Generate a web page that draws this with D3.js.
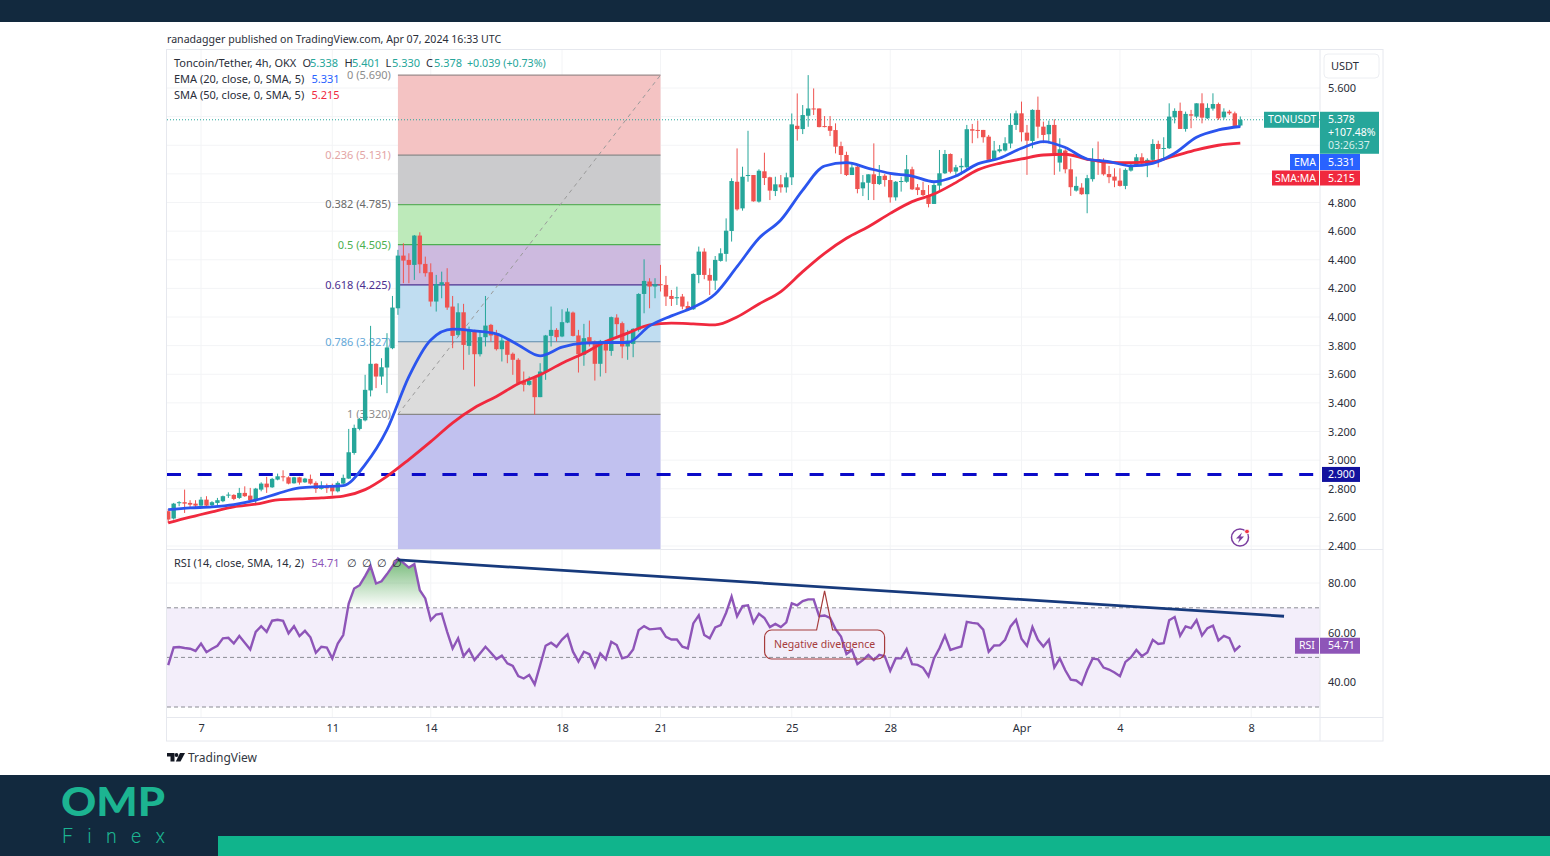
<!DOCTYPE html>
<html>
<head>
<meta charset="utf-8">
<script src="https://cdn.jsdelivr.net/npm/d3@7"></script>
<style>
  html, body { margin: 0; padding: 0; background: #fff; }
  svg { display: block; }
  text { font-family: "Noto Sans", sans-serif; }
</style>
</head>
<body>
<svg width="1550" height="856"></svg>
<script>
// bars are 4h, first one is Mar 6 00:00 UTC
const opens = [2.643,2.592,2.699,2.706,2.701,2.696,2.682,2.724,2.685,2.701,2.713,2.755,2.757,2.736,2.771,2.752,2.720,2.794,2.836,2.810,2.864,2.887,2.880,2.838,2.880,2.845,2.869,2.841,2.799,2.817,2.822,2.782,2.836,2.871,3.050,3.218,3.278,3.487,3.673,3.584,3.647,3.782,4.061,4.429,4.399,4.364,4.569,4.371,4.313,4.108,4.224,4.243,4.073,3.875,4.033,3.798,3.903,3.740,3.859,3.945,3.880,3.775,3.833,3.743,3.701,3.554,3.526,3.573,3.440,3.615,3.868,3.910,3.864,3.961,4.031,3.871,3.736,3.859,3.829,3.673,3.833,3.763,3.996,3.957,3.794,3.812,3.910,4.161,4.248,4.213,4.229,4.224,4.147,4.133,4.143,4.077,4.054,4.294,4.457,4.294,4.254,4.392,4.441,4.601,4.945,4.759,4.985,4.992,4.806,5.018,4.976,4.880,4.927,4.906,4.976,5.336,5.313,5.406,5.457,5.457,5.334,5.334,5.306,5.194,5.132,4.992,5.050,4.899,4.938,4.997,4.929,4.987,4.957,4.836,4.945,4.945,5.032,4.906,4.887,4.852,4.790,4.918,5.004,5.139,5.016,5.046,5.046,5.312,5.307,5.307,5.260,5.098,5.158,5.163,5.212,5.342,5.423,5.288,5.230,5.447,5.330,5.277,5.342,5.079,5.163,5.032,4.883,4.904,4.858,4.963,5.104,5.086,4.999,4.981,4.953,4.916,5.023,5.056,5.116,5.070,5.098,5.209,5.177,5.179,5.395,5.440,5.314,5.416,5.400,5.493,5.388,5.456,5.488,5.395,5.435,5.423,5.338];
const highs = [2.659,2.701,2.713,2.794,2.720,2.720,2.743,2.748,2.713,2.736,2.752,2.775,2.762,2.806,2.817,2.806,2.806,2.845,2.883,2.876,2.906,2.929,2.887,2.883,2.883,2.876,2.899,2.852,2.852,2.836,2.836,2.852,2.899,3.218,3.248,3.294,3.596,3.938,3.677,3.712,3.887,4.147,4.469,4.515,4.445,4.573,4.592,4.422,4.375,4.294,4.317,4.341,4.147,4.096,4.092,3.933,3.910,3.898,4.147,3.952,3.910,3.875,3.852,3.752,3.712,3.619,3.584,3.573,3.677,3.875,4.073,3.922,4.054,4.061,4.038,3.910,3.952,3.975,3.836,3.840,3.840,4.003,4.019,3.968,3.910,3.922,4.166,4.403,4.271,4.271,4.364,4.287,4.189,4.212,4.161,4.108,4.305,4.492,4.480,4.340,4.426,4.480,4.689,4.969,5.178,5.050,5.301,4.992,5.032,5.148,4.980,4.980,4.992,5.008,5.422,5.562,5.481,5.690,5.597,5.457,5.404,5.404,5.353,5.225,5.155,5.078,5.069,4.992,4.997,5.213,5.062,4.999,5.004,4.950,4.980,5.132,5.050,4.929,4.945,4.922,4.934,5.167,5.167,5.143,5.063,5.109,5.342,5.349,5.372,5.307,5.272,5.230,5.202,5.256,5.423,5.442,5.505,5.342,5.451,5.540,5.365,5.372,5.381,5.249,5.172,5.109,4.981,4.935,4.993,5.179,5.226,5.109,5.056,5.039,5.039,5.039,5.074,5.139,5.144,5.109,5.242,5.232,5.256,5.493,5.458,5.498,5.435,5.447,5.493,5.563,5.493,5.563,5.498,5.458,5.447,5.435,5.401];
const lows = [2.561,2.585,2.678,2.631,2.666,2.666,2.673,2.673,2.678,2.682,2.706,2.736,2.720,2.729,2.743,2.706,2.696,2.782,2.771,2.806,2.859,2.852,2.831,2.836,2.829,2.841,2.829,2.771,2.794,2.771,2.752,2.775,2.829,2.869,3.038,3.208,3.271,3.445,3.503,3.526,3.468,3.775,4.015,4.236,4.236,4.259,4.306,4.282,4.073,4.038,4.131,4.050,3.782,3.864,3.631,3.736,3.515,3.724,3.794,3.829,3.766,3.689,3.677,3.596,3.538,3.480,3.521,3.317,3.440,3.561,3.794,3.829,3.859,3.957,3.864,3.612,3.659,3.794,3.556,3.584,3.608,3.729,3.868,3.712,3.701,3.719,3.898,4.026,4.061,4.131,4.178,4.077,4.077,4.084,4.054,4.050,4.050,4.236,4.264,4.154,4.189,4.387,4.387,4.527,4.743,4.743,4.945,4.806,4.799,4.922,4.817,4.845,4.869,4.869,4.922,5.232,5.278,5.329,5.411,5.325,5.325,5.264,5.143,4.999,4.985,4.992,4.864,4.845,4.817,4.817,4.922,4.911,4.799,4.813,4.876,4.938,4.887,4.852,4.845,4.766,4.790,4.883,4.999,5.004,4.981,4.993,5.028,5.214,5.249,5.218,5.098,5.091,5.149,5.156,5.179,5.307,5.226,4.993,5.179,5.249,5.214,5.214,4.993,5.016,5.004,4.846,4.876,4.853,4.725,4.946,4.993,4.988,4.935,4.907,4.911,4.893,5.016,5.056,5.063,4.977,5.086,5.046,5.098,5.174,5.353,5.314,5.295,5.319,5.388,5.353,5.384,5.442,5.377,5.381,5.412,5.330,5.330];
const closes = [2.585,2.696,2.706,2.696,2.689,2.682,2.724,2.682,2.706,2.720,2.748,2.759,2.729,2.771,2.748,2.720,2.801,2.836,2.810,2.869,2.887,2.883,2.836,2.880,2.843,2.871,2.836,2.799,2.822,2.803,2.782,2.841,2.876,3.055,3.225,3.287,3.491,3.673,3.584,3.649,3.787,4.066,4.429,4.394,4.364,4.569,4.368,4.306,4.108,4.229,4.243,4.066,3.868,4.033,3.805,3.910,3.740,3.859,3.940,3.871,3.775,3.836,3.736,3.701,3.538,3.526,3.554,3.440,3.619,3.871,3.910,3.859,3.964,4.038,3.868,3.740,3.852,3.817,3.673,3.833,3.766,3.999,3.950,3.794,3.836,3.917,4.161,4.252,4.213,4.229,4.224,4.143,4.126,4.138,4.073,4.054,4.301,4.457,4.294,4.254,4.399,4.445,4.603,4.950,4.752,4.980,4.992,4.808,5.022,4.971,4.883,4.927,4.906,4.976,5.346,5.313,5.411,5.457,5.453,5.327,5.327,5.301,5.190,5.132,4.992,5.045,4.894,4.941,4.997,4.929,4.985,4.957,4.836,4.945,4.950,5.032,4.892,4.887,4.852,4.790,4.922,5.004,5.139,5.015,5.046,5.056,5.312,5.302,5.300,5.256,5.098,5.163,5.172,5.214,5.342,5.423,5.291,5.232,5.447,5.330,5.272,5.342,5.144,5.172,5.032,4.907,4.916,4.858,4.970,5.104,5.098,4.997,4.977,4.953,4.916,5.028,5.051,5.116,5.074,5.098,5.209,5.174,5.181,5.400,5.440,5.314,5.419,5.407,5.493,5.393,5.461,5.488,5.388,5.435,5.423,5.335,5.378];

// moving averages read every 4th bar
const maStep = 4;
const emaValues = [2.654,2.666,2.673,2.689,2.720,2.766,2.806,2.815,2.822,2.969,3.213,3.584,3.840,3.915,3.903,3.882,3.805,3.729,3.789,3.817,3.822,3.822,3.938,4.008,4.068,4.161,4.352,4.550,4.678,4.887,5.055,5.078,5.039,5.004,4.985,4.945,4.985,5.070,5.109,5.179,5.226,5.184,5.104,5.086,5.056,5.074,5.144,5.256,5.307,5.331];
const smaValues = [2.561,2.601,2.638,2.673,2.692,2.722,2.729,2.736,2.748,2.794,2.887,3.004,3.129,3.261,3.366,3.445,3.533,3.596,3.677,3.747,3.829,3.887,3.945,3.957,3.952,3.945,4.000,4.091,4.178,4.317,4.445,4.550,4.631,4.724,4.806,4.859,4.939,5.028,5.074,5.104,5.132,5.137,5.102,5.081,5.079,5.086,5.125,5.167,5.200,5.215];

const rsiValues = [46.9,54.0,54.2,53.8,53.5,52.6,55.6,52.1,53.5,54.7,57.7,57.9,55.6,58.6,55.9,53.2,60.3,62.6,60.3,64.8,65.2,64.8,59.7,62.6,58.6,60.7,58.1,51.9,54.3,54.0,49.6,55.6,59.0,71.7,77.8,79.1,82.8,86.8,79.8,80.7,83.6,86.8,89.9,88.1,86.2,87.6,77.1,73.8,65.0,67.3,67.7,60.3,53.6,57.7,50.5,53.2,48.9,51.6,54.3,51.9,49.3,50.7,47.6,46.6,42.5,41.5,42.9,39.1,46.9,54.7,55.9,54.3,57.2,59.3,52.3,48.3,52.3,51.3,46.2,51.6,49.2,56.3,55.0,49.6,50.3,53.2,61.0,62.6,61.3,61.5,61.7,58.3,57.2,57.2,54.3,53.6,63.7,67.0,59.0,57.7,62.1,63.0,68.0,74.5,66.6,70.7,71.0,63.9,67.6,65.9,62.2,63.5,62.2,64.1,71.8,71.0,72.7,73.4,73.4,66.6,66.9,65.9,61.4,58.4,51.4,53.0,47.3,48.9,51.0,48.9,51.0,50.5,44.6,49.6,49.6,53.4,47.3,47.0,45.8,42.4,49.6,53.7,58.8,53.0,53.7,54.4,64.3,63.9,63.6,61.2,52.3,54.8,54.9,57.1,62.5,65.2,57.5,54.6,62.2,57.1,54.4,57.1,45.9,49.6,44.8,41.0,40.7,39.0,44.8,49.5,49.2,45.9,45.1,43.9,42.4,48.2,50.0,53.0,50.5,52.0,57.1,55.4,55.7,65.0,66.3,58.7,62.5,61.8,65.0,58.8,61.8,62.8,56.8,58.7,57.8,52.7,54.71];

const fibRatios = [0, 0.236, 0.382, 0.5, 0.618, 0.786, 1];
const fibPrices = [5.690, 5.131, 4.785, 4.505, 4.225, 3.827, 3.320];
const fibBottomPrice = 1.855; // 1.618 level, off the pane
const fibStartBar = 42;
const fibEndBar = 90;

const gridPrices = [5.6, 5.4, 5.2, 5.0, 4.8, 4.6, 4.4, 4.2, 4.0, 3.8, 3.6, 3.4, 3.2, 3.0, 2.8, 2.6, 2.4];
const priceTicks = [5.6, 4.8, 4.6, 4.4, 4.2, 4.0, 3.8, 3.6, 3.4, 3.2, 3.0, 2.8, 2.6, 2.4]; // 5.4-5.0 sit behind the tags
const rsiTicks = [80, 60, 40];
const rsiLevels = [70, 50, 30];
const dateTicks = ['2024-03-07', '2024-03-11', '2024-03-14', '2024-03-18', '2024-03-21', '2024-03-25', '2024-03-28', '2024-04-01', '2024-04-04', '2024-04-08'];
const dateLabels = ['7', '11', '14', '18', '21', '25', '28', 'Apr', '4', '8'];

const supportPrice = 2.9;
const lastPrice = 5.378;
const lastEma = 5.331;
const lastSma = 5.215;
const lastRsi = 54.71;
const trendBars = [42, 204];
const trendRsi = [89.3, 66.6];
const calloutBar = 120;
const calloutTipRsi = 76.8;

const fibFills = ['#f4c3c3', '#cbcbcd', '#bdeaba', '#cdbadf', '#c0ddf1', '#dcdcdc', '#c1c1ef'];
const fibLines = ['#9a8a8a', '#888888', '#5fae5f', '#4caf50', '#4b2f8f', '#5b88aa', '#888888'];
const fibTexts = ['#8c8c8c', '#e3a5a5', '#6a6a6a', '#4caf50', '#4b2f8f', '#64a8d8', '#8c8c8c'];
const upColor = '#26a69a', downColor = '#ef5350';
const emaColor = '#2b55ee', smaColor = '#f0293e', rsiColor = '#8e55b8';
const navy = '#12293e', teal = '#10b48c';

const svg = d3.select('svg');
const paneLeft = 167, paneRight = 1320, chartRight = 1383;
const paneTop = 50, paneBottom = 549, rsiBottom = 717, chartBottom = 741;

const parseDay = d3.utcParse('%Y-%m-%d');
const firstBar = parseDay('2024-03-06');
const barTime = i => d3.utcHour.offset(firstBar, i * 4);
const x = d3.scaleUtc()
  .domain([firstBar, barTime(196)])
  .range([168.2, 1240.3]);
const xBar = i => x(barTime(i));
const y = d3.scaleLinear().domain([2.4, 5.6]).range([546, 88]);
const yRsi = d3.scaleLinear().domain([30, 80]).range([707, 583]);

// page frame
svg.append('rect').attr('width', 1550).attr('height', 22).attr('fill', navy);
svg.append('rect').attr('y', 775).attr('width', 1550).attr('height', 81).attr('fill', navy);
svg.append('rect').attr('x', 218).attr('y', 836).attr('width', 1332).attr('height', 20).attr('fill', teal);

const defs = svg.append('defs');
defs.append('clipPath').attr('id', 'mainClip').append('rect')
  .attr('x', paneLeft).attr('y', paneTop).attr('width', paneRight - paneLeft).attr('height', paneBottom - paneTop);
defs.append('clipPath').attr('id', 'rsiClip').append('rect')
  .attr('x', paneLeft).attr('y', paneBottom + 1).attr('width', paneRight - paneLeft).attr('height', rsiBottom - paneBottom - 1);
const grad = defs.append('linearGradient').attr('id', 'obFill')
  .attr('gradientUnits', 'userSpaceOnUse').attr('x1', 0).attr('x2', 0)
  .attr('y1', yRsi(90)).attr('y2', yRsi(70));
grad.append('stop').attr('offset', 0).attr('stop-color', '#43a047').attr('stop-opacity', 0.75);
grad.append('stop').attr('offset', 1).attr('stop-color', '#43a047').attr('stop-opacity', 0);
defs.append('clipPath').attr('id', 'obClip').append('rect')
  .attr('x', paneLeft).attr('y', paneBottom).attr('width', paneRight - paneLeft).attr('height', yRsi(70) - paneBottom);

// grid
const grid = svg.append('g').attr('stroke', '#f3f4f6').attr('stroke-width', 1);
grid.selectAll('line.h').data(gridPrices).enter().append('line')
  .attr('x1', paneLeft).attr('x2', paneRight)
  .attr('y1', d => y(d)).attr('y2', d => y(d));
grid.selectAll('line.r').data(rsiTicks).enter().append('line')
  .attr('x1', paneLeft).attr('x2', paneRight)
  .attr('y1', d => yRsi(d)).attr('y2', d => yRsi(d));
grid.selectAll('line.v').data(dateTicks).enter().append('line')
  .attr('x1', d => x(parseDay(d))).attr('x2', d => x(parseDay(d)))
  .attr('y1', paneTop).attr('y2', rsiBottom);

// fib retracement
const main = svg.append('g').attr('clip-path', 'url(#mainClip)');
const fibEdges = fibPrices.concat([fibBottomPrice]);
main.selectAll('rect.fib').data(fibPrices).enter().append('rect')
  .attr('x', xBar(fibStartBar))
  .attr('width', xBar(fibEndBar) - xBar(fibStartBar))
  .attr('y', d => y(d))
  .attr('height', (d, i) => y(fibEdges[i + 1]) - y(d))
  .attr('fill', (d, i) => fibFills[i]);
main.selectAll('line.fib').data(fibPrices).enter().append('line')
  .attr('x1', xBar(fibStartBar)).attr('x2', xBar(fibEndBar))
  .attr('y1', d => y(d)).attr('y2', d => y(d))
  .attr('stroke', (d, i) => fibLines[i]).attr('stroke-width', 1.2);
main.append('line')
  .attr('x1', xBar(fibStartBar)).attr('y1', y(fibPrices[6]))
  .attr('x2', xBar(fibEndBar)).attr('y2', y(fibPrices[0]))
  .attr('stroke', '#9a9a9a').attr('stroke-width', 1).attr('stroke-dasharray', '4 4');
main.selectAll('text.fib').data(fibPrices).enter().append('text')
  .attr('x', xBar(fibStartBar) - 7)
  .attr('y', d => y(d))
  .attr('dy', '0.35em')
  .attr('text-anchor', 'end')
  .attr('font-size', 11)
  .attr('fill', (d, i) => fibTexts[i])
  .text((d, i) => `${fibRatios[i]} (${d.toFixed(3)})`);

// horizontal lines
main.append('line')
  .attr('x1', paneLeft).attr('x2', paneRight)
  .attr('y1', y(supportPrice)).attr('y2', y(supportPrice))
  .attr('stroke', '#0a0ac8').attr('stroke-width', 3).attr('stroke-dasharray', '14 16.6');
main.append('line')
  .attr('x1', paneLeft).attr('x2', paneRight)
  .attr('y1', y(lastPrice)).attr('y2', y(lastPrice))
  .attr('stroke', upColor).attr('stroke-width', 1).attr('stroke-dasharray', '1 2');

// candles
const candles = main.append('g').selectAll('g').data(d3.range(opens.length)).enter().append('g')
  .attr('fill', i => (closes[i] >= opens[i] ? upColor : downColor))
  .attr('stroke', i => (closes[i] >= opens[i] ? upColor : downColor));
candles.append('line')
  .attr('x1', i => xBar(i)).attr('x2', i => xBar(i))
  .attr('y1', i => y(highs[i])).attr('y2', i => y(lows[i]))
  .attr('stroke-width', 1);
candles.append('rect')
  .attr('x', i => xBar(i) - 2.2)
  .attr('width', 4.4)
  .attr('y', i => y(Math.max(opens[i], closes[i])))
  .attr('height', i => Math.max(1, Math.abs(y(opens[i]) - y(closes[i]))))
  .attr('stroke', 'none');

// moving averages
const maLine = d3.line()
  .x((d, i) => xBar(i * maStep))
  .y(d => y(d))
  .curve(d3.curveMonotoneX);
main.append('path').attr('d', maLine(smaValues))
  .attr('fill', 'none').attr('stroke', smaColor).attr('stroke-width', 2.8);
main.append('path').attr('d', maLine(emaValues))
  .attr('fill', 'none').attr('stroke', emaColor).attr('stroke-width', 2.8);

// RSI pane
const rsiPane = svg.append('g').attr('clip-path', 'url(#rsiClip)');
rsiPane.append('rect')
  .attr('x', paneLeft).attr('width', paneRight - paneLeft)
  .attr('y', yRsi(70)).attr('height', yRsi(30) - yRsi(70))
  .attr('fill', '#f3eefa');
rsiPane.selectAll('line.level').data(rsiLevels).enter().append('line')
  .attr('x1', paneLeft).attr('x2', paneRight)
  .attr('y1', d => yRsi(d)).attr('y2', d => yRsi(d))
  .attr('stroke', '#8a8c94').attr('stroke-width', 1).attr('stroke-dasharray', '4 3');
rsiPane.append('path')
  .attr('clip-path', 'url(#obClip)')
  .attr('d', d3.area()
    .x((d, i) => xBar(i))
    .y0(yRsi(70))
    .y1(d => yRsi(d))(rsiValues))
  .attr('fill', 'url(#obFill)');
rsiPane.append('path')
  .attr('d', d3.line().x((d, i) => xBar(i)).y(d => yRsi(d))(rsiValues))
  .attr('fill', 'none').attr('stroke', rsiColor).attr('stroke-width', 2.4);
rsiPane.append('path')
  .attr('d', d3.line()
    .x((d, i) => xBar(trendBars[i]))
    .y(d => yRsi(d))(trendRsi))
  .attr('fill', 'none').attr('stroke', '#173a7c').attr('stroke-width', 2.8);

// callout
const calloutX = xBar(calloutBar);
const calloutTop = 630, calloutBottom = 659;
const calloutLeft = calloutX - 60, calloutRight = calloutX + 60, r = 7;
const calloutPath = d3.path();
calloutPath.moveTo(calloutLeft + r, calloutTop);
calloutPath.lineTo(calloutX - 8, calloutTop);
calloutPath.lineTo(calloutX, yRsi(calloutTipRsi));
calloutPath.lineTo(calloutX + 8, calloutTop);
calloutPath.arcTo(calloutRight, calloutTop, calloutRight, calloutTop + r, r);
calloutPath.arcTo(calloutRight, calloutBottom, calloutRight - r, calloutBottom, r);
calloutPath.arcTo(calloutLeft, calloutBottom, calloutLeft, calloutBottom - r, r);
calloutPath.arcTo(calloutLeft, calloutTop, calloutLeft + r, calloutTop, r);
calloutPath.closePath();
svg.append('path').attr('d', calloutPath.toString())
  .attr('fill', 'none').attr('stroke', '#a63c3c').attr('stroke-width', 1.2);
svg.append('text')
  .attr('x', calloutX).attr('y', 644).attr('dy', '0.35em')
  .attr('text-anchor', 'middle').attr('font-size', 10.5).attr('fill', '#a63c3c')
  .text('Negative divergence');

// frame lines
const frame = svg.append('g').attr('stroke', '#e6e8ee').attr('stroke-width', 1).attr('fill', 'none');
frame.append('rect')
  .attr('x', paneLeft - 0.5).attr('y', paneTop - 0.5)
  .attr('width', chartRight - paneLeft + 0.5).attr('height', chartBottom - paneTop + 0.5);
frame.append('line').attr('x1', paneRight).attr('x2', paneRight).attr('y1', paneTop).attr('y2', chartBottom);
frame.append('line').attr('x1', paneLeft).attr('x2', chartRight).attr('y1', paneBottom + 0.5).attr('y2', paneBottom + 0.5);
frame.append('line').attr('x1', paneLeft).attr('x2', chartRight).attr('y1', rsiBottom + 0.5).attr('y2', rsiBottom + 0.5);

// axes
const styleAxis = g => {
  g.select('.domain').remove();
  g.selectAll('line').remove();
  g.selectAll('text').attr('font-size', 11).attr('fill', '#2a2e39')
    .style('font-family', '"Noto Sans", sans-serif');
};
svg.append('g').attr('transform', `translate(${paneRight + 8},0)`)
  .call(d3.axisRight(y).tickValues(priceTicks).tickSize(0).tickPadding(0).tickFormat(d3.format('.3f')))
  .call(styleAxis);
svg.append('g').attr('transform', `translate(${paneRight + 8},0)`)
  .call(d3.axisRight(yRsi).tickValues(rsiTicks).tickSize(0).tickPadding(0).tickFormat(d3.format('.2f')))
  .call(styleAxis);
svg.append('g').attr('transform', `translate(0,${rsiBottom + 5})`)
  .call(d3.axisBottom(x).tickValues(dateTicks.map(parseDay)).tickSize(0).tickPadding(2)
    .tickFormat((d, i) => dateLabels[i]))
  .call(styleAxis);

// currency button
svg.append('rect')
  .attr('x', 1324).attr('y', 54).attr('width', 55).attr('height', 24).attr('rx', 4)
  .attr('fill', '#fff').attr('stroke', '#eceef2');
svg.append('text').attr('x', 1331).attr('y', 66).attr('dy', '0.35em')
  .attr('font-size', 11).attr('fill', '#2a2e39').text('USDT');

// price tags on the axis
const tag = (px, py, w, h, fill, text, left = 6) => {
  svg.append('rect').attr('x', px).attr('y', py).attr('width', w).attr('height', h).attr('fill', fill);
  svg.append('text').attr('x', px + left).attr('y', py + h / 2).attr('dy', '0.35em')
    .attr('font-size', 10.5).attr('fill', '#fff').text(text);
};
tag(1264, y(lastPrice) - 8, 55, 16, upColor, 'TONUSDT', 4);
svg.append('rect').attr('x', 1320).attr('y', y(lastPrice) - 8)
  .attr('width', 59).attr('height', 42).attr('fill', upColor);
[d3.format('.3f')(lastPrice), '+107.48%', '03:26:37'].forEach((t, i) => {
  svg.append('text').attr('x', 1328).attr('y', y(lastPrice) + i * 13).attr('dy', '0.35em')
    .attr('font-size', 10.5).attr('fill', i === 2 ? '#d5efec' : '#fff').text(t);
});
tag(1290, 154, 29, 16, '#2962ff', 'EMA', 4);
tag(1320, 154, 40, 16, '#2962ff', d3.format('.3f')(lastEma), 8);
tag(1272, 170.5, 47, 15, smaColor, 'SMA:MA', 3);
tag(1320, 170.5, 40, 15, smaColor, d3.format('.3f')(lastSma), 8);
tag(1322, y(supportPrice) - 7.5, 38, 15, '#12129e', d3.format('.3f')(supportPrice), 6);
tag(1295, yRsi(lastRsi) - 8, 24, 16, rsiColor, 'RSI', 4);
tag(1320, yRsi(lastRsi) - 8, 40, 16, rsiColor, d3.format('.2f')(lastRsi), 8);

// header and legends
const label = (px, py, t, color = '#2a2e39', size = 11) => svg.append('text')
  .attr('x', px).attr('y', py).attr('dy', '0.35em')
  .attr('font-size', size).attr('fill', color).text(t);
label(167, 39, 'ranadagger published on TradingView.com, Apr 07, 2024 16:33 UTC', '#2a2e39', 10.6);
label(174, 63.5, 'Toncoin/Tether, 4h, OKX');
[['O', 302.5, '5.338', 310], ['H', 344.5, '5.401', 352], ['L', 385.5, '5.330', 392], ['C', 426, '5.378', 434]]
  .forEach(d => {
    label(d[1], 63.5, d[0]);
    label(d[3], 63.5, d[2], upColor);
  });
label(467, 63.5, '+0.039 (+0.73%)', upColor, 10.7);
label(174, 79.5, 'EMA (20, close, 0, SMA, 5)');
label(311.5, 79.5, d3.format('.3f')(lastEma), '#2962ff');
label(174, 95.5, 'SMA (50, close, 0, SMA, 5)');
label(311.5, 95.5, d3.format('.3f')(lastSma), smaColor);
label(174, 563.5, 'RSI (14, close, SMA, 14, 2)');
label(311.5, 563.5, d3.format('.2f')(lastRsi), rsiColor);
[347, 362, 377, 392].forEach(px => label(px, 563.5, '\u2205'));

// lightning badge
const bolt = svg.append('g').attr('transform', 'translate(1240,537.5)');
bolt.append('circle').attr('r', 8.5).attr('fill', 'none').attr('stroke', '#7b3fa0').attr('stroke-width', 1.5);
bolt.append('path').attr('d', 'M2,-5 L-4,1 L-0.5,1 L-2,5.5 L4,-1 L0.5,-1 Z').attr('fill', '#7b3fa0');
bolt.append('circle').attr('cx', 7).attr('cy', -6).attr('r', 2.4).attr('fill', '#f23645').attr('stroke', '#fff');

// TradingView mark
const tv = svg.append('g').attr('transform', 'translate(167,753)').attr('fill', '#131722');
tv.append('path').attr('d', 'M0,0 H7.5 V8.5 H3.5 V3.5 H0 Z');
tv.append('circle').attr('cx', 9.5).attr('cy', 2).attr('r', 1.9);
tv.append('path').attr('d', 'M13,0 H18 L13.5,8.5 H8.8 Z');
label(188, 757.5, 'TradingView', '#333842', 12);

// OMP Finex logo
svg.append('text').attr('x', 61).attr('y', 815.5)
  .attr('font-size', 39).attr('font-weight', 900).attr('fill', '#1cb491')
  .attr('textLength', 104).attr('lengthAdjust', 'spacingAndGlyphs')
  .style('font-family', 'Lato, sans-serif').text('OMP');
svg.append('text').attr('x', 62).attr('y', 842.5)
  .attr('font-size', 19.5).attr('font-weight', 300).attr('fill', '#1cb491')
  .attr('textLength', 103)
  .style('font-family', 'Roboto, sans-serif').text('Finex');
</script>
</body>
</html>
